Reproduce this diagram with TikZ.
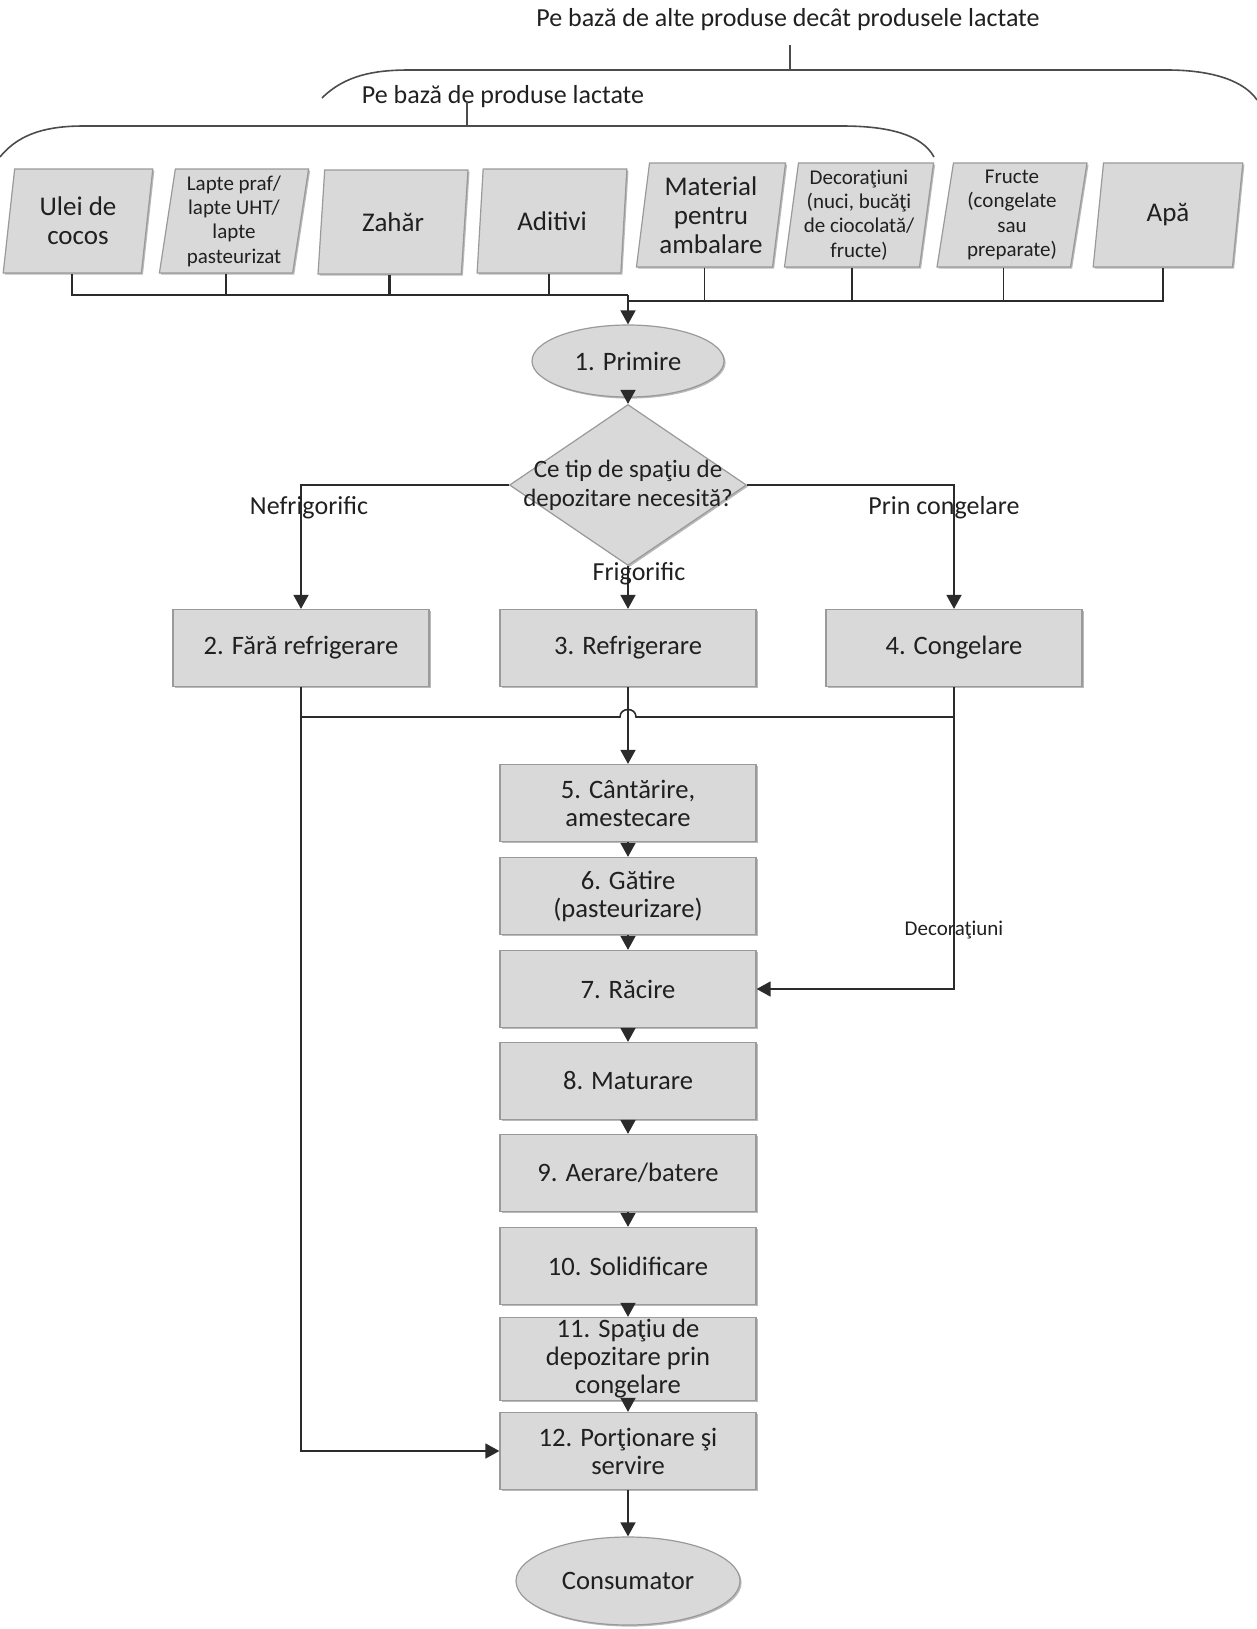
\documentclass[tikz,border=0pt]{standalone}
\usepackage{fontspec}
\setmainfont{Carlito}
\usetikzlibrary{shapes.geometric,arrows.meta,shadows}
\definecolor{boxfill}{HTML}{D9D9D9}
\definecolor{boxdraw}{HTML}{9A9A9A}
\definecolor{linec}{HTML}{2B2B2B}
\definecolor{txt}{HTML}{202020}
\begin{document}
\begin{tikzpicture}[x=0.5pt,y=-0.5pt,
  shd/.style={drop shadow={shadow xshift=0.8pt,shadow yshift=-0.8pt,fill=black!45,opacity=0.6}},
  inbox/.style={trapezium, trapezium left angle=82, trapezium right angle=98, trapezium stretches=true, minimum width=75pt, minimum height=52pt, inner sep=1pt, fill=boxfill, draw=boxdraw, line width=0.6pt, shd, align=center, text=txt},
  big/.style={font=\fontsize{13.5}{14.5}\selectfont},
  small/.style={font=\fontsize{10.5}{12.2}\selectfont},
  stepbox/.style={rectangle, minimum width=128pt, minimum height=38.5pt, fill=boxfill, draw=boxdraw, line width=0.6pt, shd, align=center, text=txt, font=\fontsize{13.3}{14}\selectfont, inner sep=1pt},
  term/.style={ellipse, fill=boxfill, draw=boxdraw, line width=0.6pt, shd, text=txt, font=\fontsize{13.3}{14}\selectfont, inner sep=0pt},
  conn/.style={draw=linec, line width=0.8pt},
  arr/.style={conn, -{Triangle[length=7pt,width=7.5pt]}},
  lbl/.style={text=txt, font=\fontsize{13}{14}\selectfont, inner sep=0pt},
  brace/.style={draw=black!70, line width=0.8pt},
]
\useasboundingbox (0,0) rectangle (1257,1629);

% braces and group labels
\draw[brace] (322,98) .. controls (345,75) and (375,70) .. (409,70) -- (1167,70) .. controls (1215,70) and (1245,82) .. (1257,100);
\draw[brace] (790,45) -- (790,70);
\node[lbl] (t1) at (788,20) {Pe bază de alte produse decât produsele lactate};
\draw[brace] (0,157) .. controls (20,132) and (50,126) .. (84,126) -- (842,126) .. controls (890,126) and (922,135) .. (934,157);
\node[lbl] (t2) at (503,97) {Pe bază de produse lactate};
\draw[brace] (467,102) -- (467,126);

% inputs
\node[inbox,big] (u1) at (78,221) {Ulei de\\cocos};
\node[inbox,small] (u2) at (234,221) {Lapte praf/\\lapte UHT/\\lapte\\pasteurizat};
\node[inbox,big] (u3) at (393,222) {Zahăr};
\node[inbox,big] (u4) at (552,221) {Aditivi};
\node[inbox,big] (u5) at (711,215) {Material\\pentru\\ambalare};
\node[inbox,small] (u6) at (859,215) {Decoraţiuni\\(nuci, bucăţi\\de ciocolată/\\fructe)};
\node[inbox,small] (u7) at (1012,215) {Fructe\\(congelate\\sau\\preparate)};
\node[inbox,big] (u8) at (1168,215) {Apă};

\coordinate (busL) at (628,295);
\coordinate (busR) at (628,301);
\draw[conn] (u1.bottom side) |- (busL);
\draw[conn] (u2.bottom side) -- (u2.bottom side |- busL);
\draw[conn, line width=1.2pt] (u3.bottom side) |- (busL);
\draw[conn] (u4.bottom side) -- (u4.bottom side |- busL);
\draw[conn] (u8.bottom side) |- (busR);
\draw[conn] (u5.bottom side) -- (u5.bottom side |- busR);
\draw[conn] (u6.bottom side) -- (u6.bottom side |- busR);
\draw[conn] (u7.bottom side) -- (u7.bottom side |- busR);

% reception and decision
\node[term, minimum width=96pt, minimum height=36pt] (p1) at (628,361) {1. Primire};
\draw[arr] (busL) -- (p1.north);
\node[diamond, fill=boxfill, draw=boxdraw, line width=0.6pt, shd, minimum width=118.5pt, minimum height=80.5pt, inner sep=0pt] (dec) at (628,485) {};
\node[lbl, align=center, font=\fontsize{12.5}{14.5}\selectfont] (dtxt) at (dec.center) {Ce tip de spaţiu de\\depozitare necesită?};
\draw[arr] (p1.south) -- (dec.north);

% storage boxes
\node[stepbox] (b2) at (301,648) {2. Fără refrigerare};
\node[stepbox] (b3) at (628,648) {3. Refrigerare};
\node[stepbox] (b4) at (954,648) {4. Congelare};
\draw[arr] (dec.west) -| (b2.north);
\draw[arr] (dec.east) -| (b4.north);
\draw[arr] (dec.south) -- (b3.north);
\node[lbl] (lnef) at (309,508) {Nefrigorific};
\node[lbl] (lcong) at (944,508) {Prin congelare};
\node[lbl] (lfrig) at (639,574) {Frigorific};

% process column
\node[stepbox] (b5) at (628,803) {5. Cântărire,\\amestecare};
\node[stepbox] (b6) at (628,896) {6. Gătire\\(pasteurizare)};
\node[stepbox] (b7) at (628,989) {7. Răcire};
\node[stepbox] (b8) at (628,1081) {8. Maturare};
\node[stepbox] (b9) at (628,1173) {9. Aerare/batere};
\node[stepbox] (b10) at (628,1266) {10. Solidificare};
\node[stepbox] (b11) at (628,1359) {11. Spaţiu de\\depozitare prin\\congelare};
\node[stepbox] (b12) at (628,1451) {12. Porţionare şi\\servire};
\node[term, minimum width=112pt, minimum height=44pt] (cons) at (628,1581) {Consumator};

\coordinate (hop1) at (620,717);
\coordinate (hop2) at (636,717);
\draw[conn] (b2.south) |- (hop1) .. controls (620,707) and (636,707) .. (hop2) -- (b4.south |- hop2);
\draw[arr] (b2.south) |- (b12.west);
\draw[arr] (b4.south) |- (b7.east);
\draw[arr] (b3.south) -- (b5.north);
\node[lbl, font=\fontsize{10.5}{12}\selectfont] (ldec) at (954,930) {Decoraţiuni};

\draw[arr] (b5.south) -- (b6.north);
\draw[arr] (b6.south) -- (b7.north);
\draw[arr] (b7.south) -- (b8.north);
\draw[arr] (b8.south) -- (b9.north);
\draw[arr] (b9.south) -- (b10.north);
\draw[arr] (b10.south) -- (b11.north);
\draw[arr] (b11.south) -- (b12.north);
\draw[arr] (b12.south) -- (cons.north);
\end{tikzpicture}
\end{document}
